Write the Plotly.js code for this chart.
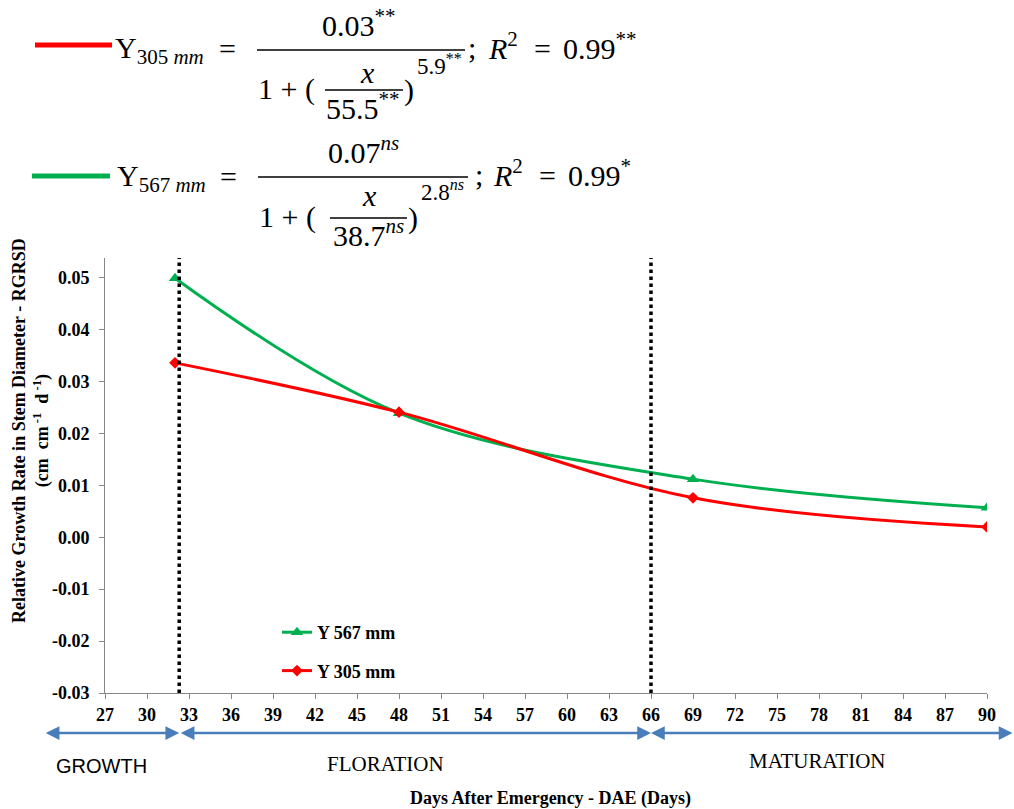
<!DOCTYPE html>
<html><head><meta charset="utf-8">
<script src="https://cdn.plot.ly/plotly-3.0.1.min.js"></script>
<style>html,body{margin:0;padding:0;background:#fff}#chart{width:1014px;height:809px}</style>
</head><body><div id="chart"></div>
<script>
// ---------- data ----------
const days = [32, 48, 69, 90];
const y567 = [0.0499, 0.0239, 0.0112, 0.0057];
const y305 = [0.0336, 0.0241, 0.0076, 0.0020];
const seriesNames = ['Y 567 mm', 'Y 305 mm'];
const xTickVals = [27, 30, 33, 36, 39, 42, 45, 48, 51, 54, 57, 60, 63, 66, 69, 72, 75, 78, 81, 84, 87, 90];
const yTickVals = [-0.03, -0.02, -0.01, 0, 0.01, 0.02, 0.03, 0.04, 0.05];
const yTickText = ['-0.03', '-0.02', '-0.01', '0.00', '0.01', '0.02', '0.03', '0.04', '0.05'];
const phaseBounds = [32.3, 66];
const phaseNames = ['GROWTH', 'FLORATION', 'MATURATION'];

// ---------- geometry helpers (decoration placement) ----------
const W = 1014, H = 809;
const M = {l: 105, r: 27, t: 258, b: 116};
const PW = W - M.l - M.r, PH = H - M.t - M.b;
const PX = x => (x - M.l) / PW;
const PY = y => (H - M.b - y) / PH;
const SERIF = "'Liberation Serif', 'Times New Roman', serif";
const SANS = "'Liberation Sans', Arial, sans-serif";
const RED = '#FF0000', GREEN = '#00B050', BLUE = '#4A7EBB';

function ann(text, x, base, size, anchor, extra) {
  const hasSup = /<sup>/.test(text), hasSub = /<sub>/.test(text);
  const top = hasSup ? -1.04 * size : -0.891 * size;
  const bot = hasSub ? 0.361 * size : 0.216 * size;
  const cy = base + (top + bot) / 2;
  return Object.assign({xref: 'paper', yref: 'paper', x: PX(x), y: PY(cy), xanchor: anchor, yanchor: 'middle',
    text: text, showarrow: false, font: {family: SERIF, size: size, color: '#000'}}, extra || {});
}
function hline(x0, x1, y, color, width) {
  return {type: 'line', xref: 'paper', yref: 'paper', x0: PX(x0), x1: PX(x1), y0: PY(y), y1: PY(y),
    line: {color: color, width: width}};
}

// ---------- traces ----------
const traces = [
  {x: days, y: y567, name: seriesNames[0], type: 'scatter', mode: 'lines+markers', legendgroup: 'g1',
   line: {color: GREEN, width: 3, shape: 'spline', smoothing: 1},
   marker: {symbol: 'triangle-up', size: 11, color: GREEN}},
  {x: days, y: y305, name: seriesNames[1], type: 'scatter', mode: 'lines+markers', legendgroup: 'g2',
   line: {color: RED, width: 3, shape: 'spline', smoothing: 1},
   marker: {symbol: 'diamond', size: 9, color: RED}}
];

// ---------- shapes ----------
const shapes = phaseBounds.map(b => ({type: 'line', xref: 'x', yref: 'paper', x0: b, x1: b, y0: 0, y1: 1,
  line: {color: '#000', width: 3.5, dash: 'dot'}}));
shapes.push(hline(35, 112, 45, RED, 5));
shapes.push(hline(32, 110, 176, GREEN, 5));
shapes.push(hline(257, 465, 50, '#000', 1.6));
shapes.push(hline(325, 403, 90, '#000', 1.6));
shapes.push(hline(258, 468, 177, '#000', 1.6));
shapes.push(hline(330, 407, 218, '#000', 1.6));

// ---------- annotations ----------
const S = 30, s2 = 23;
const annotations = [
  // equation 1
  ann('Y<sub>305 <i>mm</i></sub>', 113, 58, S, 'left'),
  ann('=', 227.5, 59, S, 'center'),
  ann('0.03<sup>**</sup>', 359, 35, S, 'center'),
  ann('1 + (', 256, 99, S, 'left'),
  ann('<i>x</i>', 367, 83, S, 'center'),
  ann('55.5<sup>**</sup>', 363, 118, S, 'center'),
  ann(')', 402, 100, S, 'left'),
  ann('5.9<sup>**</sup>', 415, 74, s2, 'left'),
  ann(';', 466, 58, S, 'left'),
  ann('<i>R</i><sup>2</sup>', 486, 58, S, 'left'),
  ann('=', 542.5, 59, S, 'center'),
  ann('0.99<sup>**</sup>', 561, 58, S, 'left'),
  // equation 2
  ann('Y<sub>567 <i>mm</i></sub>', 115, 186, S, 'left'),
  ann('=', 228.5, 187, S, 'center'),
  ann('0.07<sup><i>ns</i></sup>', 363, 162, S, 'center'),
  ann('1 + (', 257, 227, S, 'left'),
  ann('<i>x</i>', 369, 206, S, 'center'),
  ann('38.7<sup><i>ns</i></sup>', 368, 245, S, 'center'),
  ann(')', 406, 228, S, 'left'),
  ann('2.8<sup><i>ns</i></sup>', 419, 200, s2, 'left'),
  ann(';', 473, 185, S, 'left'),
  ann('<i>R</i><sup>2</sup>', 491, 185, S, 'left'),
  ann('=', 547, 186, S, 'center'),
  ann('0.99<sup>*</sup>', 566, 185, S, 'left'),
  // axis titles
  {xref: 'paper', yref: 'paper', x: PX(31), y: PY(431), xanchor: 'center', yanchor: 'middle', textangle: -90,
   showarrow: false, align: 'center',
   text: 'Relative Growth Rate in Stem Diameter - RGRSD<br>(cm&nbsp; cm<sup> -1</sup>&nbsp; d<sup> -1</sup>)',
   font: {family: SERIF, size: 18, color: '#000', weight: 'bold'}},
  {xref: 'paper', yref: 'paper', x: PX(550), y: PY(798), xanchor: 'center', yanchor: 'middle', showarrow: false,
   text: 'Days After Emergency - DAE (Days)', font: {family: SERIF, size: 18, color: '#000', weight: 'bold'}},
  // phase labels
  {xref: 'paper', yref: 'paper', x: PX(101.5), y: PY(766), xanchor: 'center', yanchor: 'middle', showarrow: false,
   text: phaseNames[0], font: {family: SANS, size: 20, color: '#000'}},
  {xref: 'paper', yref: 'paper', x: PX(385.5), y: PY(764), xanchor: 'center', yanchor: 'middle', showarrow: false,
   text: phaseNames[1], font: {family: SERIF, size: 21, color: '#000'}},
  {xref: 'paper', yref: 'paper', x: PX(817), y: PY(761), xanchor: 'center', yanchor: 'middle', showarrow: false,
   text: phaseNames[2], font: {family: SERIF, size: 21, color: '#000'}},
];
// phase arrows
const arrowBase = {yref: 'paper', y: PY(733), ayref: 'pixel', ay: 0, text: '', showarrow: true,
  arrowside: 'end+start', arrowhead: 2, startarrowhead: 2, arrowsize: 1.1, startarrowsize: 1.1,
  arrowwidth: 2.5, arrowcolor: BLUE, standoff: 0, startstandoff: 0};
annotations.push(Object.assign({}, arrowBase, {xref: 'x', x: phaseBounds[0], axref: 'pixel', ax: -135}));
annotations.push(Object.assign({}, arrowBase, {xref: 'x', x: phaseBounds[1], axref: 'x', ax: phaseBounds[0]}));
annotations.push(Object.assign({}, arrowBase, {xref: 'x', x: phaseBounds[1], axref: 'pixel', ax: 363}));

const axisCommon = {showline: true, linecolor: '#868686', linewidth: 1, ticks: 'outside', ticklen: 5,
  tickcolor: '#868686', tickwidth: 1, showgrid: false, zeroline: false,
  tickfont: {family: SERIF, size: 18, color: '#000', weight: 'bold'}};

const layout = {
  width: W, height: H, margin: {l: M.l, r: M.r, t: M.t, b: M.b, pad: 0},
  paper_bgcolor: '#fff', plot_bgcolor: '#fff',
  xaxis: Object.assign({}, axisCommon, {range: [27, 90], tickmode: 'array', tickvals: xTickVals}),
  yaxis: Object.assign({}, axisCommon, {range: [-0.03, 0.0538], tickmode: 'array', tickvals: yTickVals,
    ticktext: yTickText, ticklabelstandoff: 6}),
  showlegend: true,
  legend: {x: PX(277), y: PY(614), xanchor: 'left', yanchor: 'top', bgcolor: 'rgba(0,0,0,0)',
    traceorder: 'grouped', tracegroupgap: 12,
    font: {family: SERIF, size: 18, color: '#000', weight: 'bold'}},
  shapes: shapes,
  annotations: annotations
};

Plotly.newPlot('chart', traces, layout, {displayModeBar: false, staticPlot: true});
</script>
</body></html>
